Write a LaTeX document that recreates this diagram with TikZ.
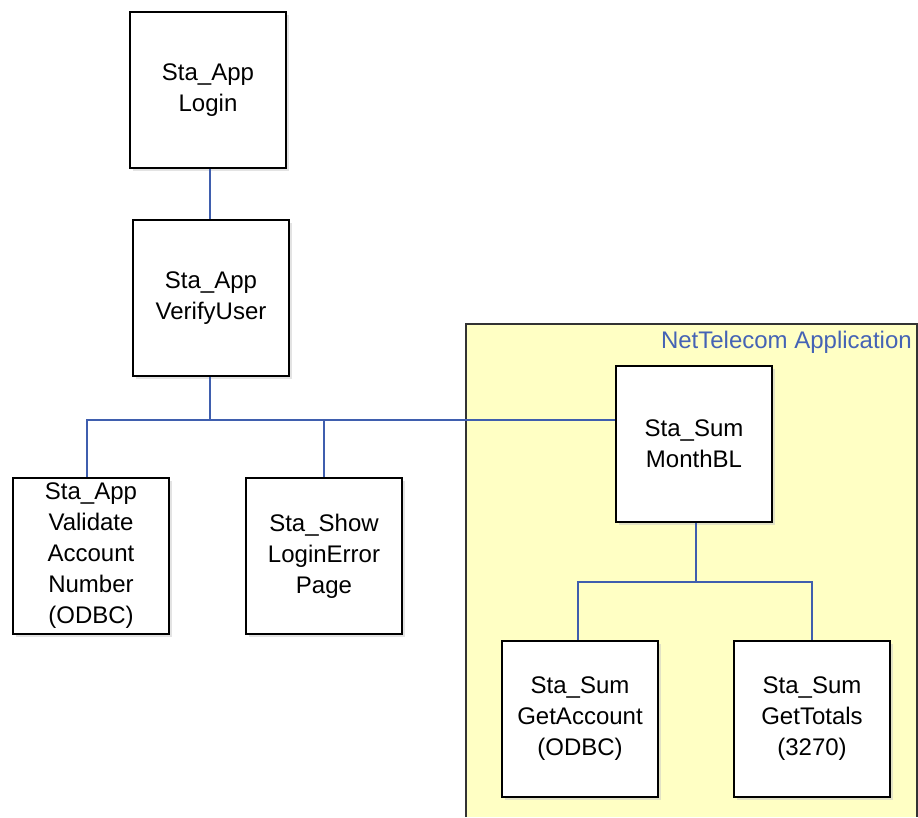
\documentclass[tikz,border=0pt]{standalone}
\usepackage{fontspec}
\setmainfont{Liberation Sans}
\usetikzlibrary{shadows}
\definecolor{linkblue}{HTML}{3F5EAE}
\definecolor{labelblue}{HTML}{4563B5}
\definecolor{zoneyellow}{HTML}{FFFFC4}
\definecolor{zoneedge}{HTML}{333333}
\tikzset{
  stepbox/.style={draw=black, line width=2pt, fill=white, align=center,
    minimum width=156pt, minimum height=156pt, inner sep=0pt,
    font=\fontsize{24}{31}\selectfont,
    drop shadow={shadow xshift=2.5pt, shadow yshift=-2.5pt, fill=black!22, draw=none}},
  link/.style={draw=linkblue, line width=1.8pt}
}
\begin{document}
\begin{tikzpicture}[x=1pt, y=-1pt]
  \useasboundingbox (0,0) rectangle (918,817);
  % application zone (open at the bottom)
  \fill[zoneyellow] (466,324) rectangle (917,817);
  \draw[zoneedge, line width=1.4pt] (466,817) -- (466,324) -- (917,324) -- (917,817);
  \node[anchor=base east, text=labelblue, font=\fontsize{24}{31}\selectfont, inner sep=0pt]
    (zonelabel) at (912,348) {NetTelecom Application};

  % steps
  \node[stepbox] (login)  at (208,90)  {Sta\_App\\Login};
  \node[stepbox] (verify) at (211,298) {Sta\_App\\VerifyUser};
  \node[stepbox] (valid)  at (91,556)  {Sta\_App\\Validate\\Account\\Number\\(ODBC)};
  \node[stepbox] (lerr)   at (324,556) {Sta\_Show\\LoginError\\Page};
  \node[stepbox] (month)  at (694,444) {Sta\_Sum\\MonthBL};
  \node[stepbox] (getacc) at (580,719) {Sta\_Sum\\GetAccount\\(ODBC)};
  \node[stepbox] (gettot) at (812,719) {Sta\_Sum\\GetTotals\\(3270)};

  % connectors
  \coordinate (bus1) at (210,420);
  \coordinate (bus2) at (696,582);
  \draw[link] (login.south -| bus1) -- (verify.north -| bus1);
  \draw[link] (verify.south -| bus1) -- (bus1);
  \draw[link] (valid.north -| 87,0) |- (month.west |- bus1);
  \draw[link] (lerr.north) -- (lerr.north |- bus1);
  \draw[link] (month.south -| bus2) -- (bus2);
  \draw[link] (getacc.north -| 578,0) |- (gettot.north |- bus2) -- (gettot.north);
\end{tikzpicture}
\end{document}
